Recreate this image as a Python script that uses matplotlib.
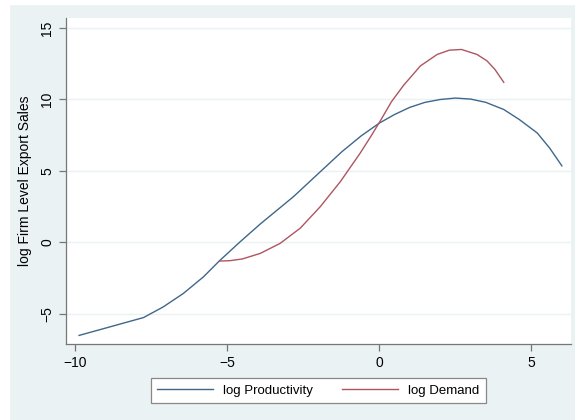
import matplotlib
matplotlib.use('Agg')
import matplotlib.pyplot as plt
from matplotlib.patches import Rectangle

plt.rcParams['font.family'] = ['Liberation Sans', 'DejaVu Sans']

# values
prod_x = [-9.87, -7.75, -7.1, -6.44, -5.78, -5.25, -4.57, -3.91, -2.82, -1.94, -1.23, -0.6, 0.0,
          0.5, 1.0, 1.5, 2.0, 2.5, 3.0, 3.5, 4.09, 4.6, 5.19, 5.6, 6.0]
prod_y = [-6.5, -5.25, -4.5, -3.56, -2.4, -1.27, 0.06, 1.3, 3.21, 4.95, 6.35, 7.45, 8.35,
          8.95, 9.45, 9.8, 10.0, 10.1, 10.03, 9.8, 9.3, 8.6, 7.66, 6.6, 5.36]

dem_x = [-5.25, -4.9, -4.5, -3.91, -3.26, -2.6, -1.94, -1.28, -0.63, -0.3, 0.03, 0.4, 0.8,
         1.35, 1.9, 2.3, 2.7, 3.21, 3.54, 3.8, 4.09]
dem_y = [-1.3, -1.27, -1.15, -0.76, -0.06, 1.0, 2.51, 4.26, 6.25, 7.35, 8.5, 9.85, 11.0,
         12.35, 13.15, 13.45, 13.5, 13.15, 12.7, 12.1, 11.2]

xticks = [-10, -5, 0, 5]
yticks = [-5, 0, 5, 10, 15]

bg = '#eaf2f3'
navy = '#3f6789'
maroon = '#ad5660'

fig = plt.figure(figsize=(5.75, 4.2), dpi=100, facecolor=bg)
# thin white strip on the left and top edges
fig.patches.append(Rectangle((0, 0), 9 / 575, 1, transform=fig.transFigure, color='white', zorder=-1))
fig.patches.append(Rectangle((0, 1 - 4 / 420), 1, 4 / 420, transform=fig.transFigure, color='white', zorder=-1))

ax = fig.add_axes([66 / 575, 76 / 420, 505 / 575, 326 / 420])
ax.set_facecolor('white')

ax.plot(prod_x, prod_y, color=navy, lw=1.0, label='log Productivity')
ax.plot(dem_x, dem_y, color=maroon, lw=1.0, label='log Demand')

ax.set_xlim(-10.3, 6.3)
ax.set_ylim(-7.1, 15.7)
ax.set_xticks(xticks)
ax.set_yticks(yticks)
ax.set_yticklabels([str(t).replace('-', '\u2212') for t in yticks], rotation=90, va='center')
ax.grid(axis='y', color=bg, lw=1.0)
ax.set_axisbelow(True)

for s in ['top', 'right']:
    ax.spines[s].set_visible(False)
for s in ['left', 'bottom']:
    ax.spines[s].set_color('#777777')
    ax.spines[s].set_linewidth(0.9)
ax.tick_params(colors='#777777', labelcolor='black', length=5, width=0.9, labelsize=10)

ax.set_ylabel('log Firm Level Export Sales', fontsize=10, labelpad=6)

leg = fig.legend(loc='center', bbox_to_anchor=(318.5 / 575, 1 - 390.5 / 420), ncol=2,
                 fancybox=False, edgecolor='#888888', framealpha=1, fontsize=9.5,
                 handlelength=4.2, columnspacing=2.2, borderpad=0.5)
leg.get_frame().set_linewidth(0.9)

fig.savefig('out.png', dpi=100, facecolor=fig.get_facecolor())
